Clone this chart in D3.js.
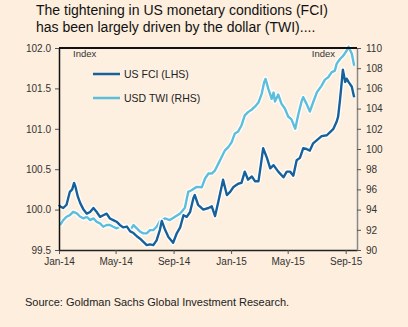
<!DOCTYPE html>
<html>
<head>
<meta charset="utf-8">
<script src="https://cdn.jsdelivr.net/npm/d3@7"></script>
<style>
    body { margin: 0; background: #fdeedd; }
    svg { display: block; font-family: "Liberation Sans", Arial, sans-serif; }
    .axis text { fill: #333; font-size: 10px; }
    .axis line { stroke: #555; }
</style>
</head>
<body>
<div class="chart"></div>
<script>
// US FCI (left axis)
var fciDates = ["2014-01-01","2014-01-03","2014-01-10","2014-01-17","2014-01-24","2014-01-29","2014-02-02","2014-02-05",
    "2014-02-10","2014-02-15","2014-02-22","2014-03-01","2014-03-08","2014-03-15","2014-03-22","2014-03-29","2014-04-05",
    "2014-04-12","2014-04-19","2014-04-26","2014-05-03","2014-05-10","2014-05-17","2014-05-25","2014-06-01","2014-06-08",
    "2014-06-15","2014-06-22","2014-06-29","2014-07-06","2014-07-13","2014-07-20","2014-07-27","2014-08-03","2014-08-07",
    "2014-08-14","2014-08-21","2014-08-31","2014-09-08","2014-09-15","2014-09-22","2014-09-29","2014-10-06","2014-10-13",
    "2014-10-16","2014-10-23","2014-11-03","2014-11-14","2014-11-21","2014-11-28","2014-12-05","2014-12-15","2014-12-23",
    "2014-12-30","2015-01-06","2015-01-16","2015-01-23","2015-01-30","2015-02-06","2015-02-14","2015-02-21","2015-02-28",
    "2015-03-05","2015-03-10","2015-03-18","2015-03-25","2015-04-01","2015-04-11","2015-04-22","2015-04-29","2015-05-06",
    "2015-05-13","2015-05-20","2015-05-27","2015-06-03","2015-06-10","2015-06-17","2015-06-24","2015-07-02","2015-07-12",
    "2015-07-23","2015-07-30","2015-08-06","2015-08-13","2015-08-16","2015-08-20","2015-08-22","2015-08-26","2015-08-31",
    "2015-09-03","2015-09-07","2015-09-14","2015-09-17","2015-09-19"];
var fciValues = [100.06,100.04,100.02,100.06,100.22,100.25,100.33,100.28,
    100.16,100.08,100.00,99.95,99.97,100.02,99.97,99.91,99.93,
    99.95,99.89,99.87,99.85,99.81,99.78,99.79,99.73,99.71,
    99.67,99.64,99.60,99.56,99.57,99.56,99.62,99.75,99.86,
    99.75,99.66,99.59,99.71,99.78,99.93,99.91,99.97,100.14,
    100.18,100.06,100.00,100.02,100.04,99.92,100.10,100.37,100.18,
    100.22,100.28,100.32,100.33,100.47,100.37,100.41,100.35,100.35,
    100.55,100.76,100.64,100.51,100.55,100.47,100.40,100.47,100.47,
    100.42,100.61,100.64,100.76,100.75,100.73,100.82,100.86,100.91,
    100.92,100.96,101.00,101.09,101.15,101.36,101.48,101.73,101.58,
    101.62,101.58,101.52,101.44,101.39];

// USD TWI (right axis)
var twiDates = ["2014-01-03","2014-01-10","2014-01-17","2014-01-24","2014-01-31","2014-02-08","2014-02-15","2014-02-22",
    "2014-03-01","2014-03-08","2014-03-15","2014-03-22","2014-03-29","2014-04-05","2014-04-12","2014-04-19","2014-04-26",
    "2014-05-03","2014-05-10","2014-05-17","2014-05-25","2014-06-01","2014-06-08","2014-06-15","2014-06-22","2014-06-29",
    "2014-07-06","2014-07-13","2014-07-20","2014-07-27","2014-08-03","2014-08-14","2014-08-24","2014-09-04","2014-09-15",
    "2014-09-25","2014-10-02","2014-10-09","2014-10-20","2014-10-31","2014-11-07","2014-11-14","2014-11-21","2014-11-28",
    "2014-12-05","2014-12-12","2014-12-19","2014-12-26","2015-01-02","2015-01-09","2015-01-16","2015-01-23","2015-01-30",
    "2015-02-06","2015-02-14","2015-02-21","2015-02-28","2015-03-07","2015-03-12","2015-03-15","2015-03-21","2015-03-28",
    "2015-04-01","2015-04-04","2015-04-11","2015-04-18","2015-04-25","2015-05-02","2015-05-09","2015-05-17","2015-05-24",
    "2015-05-31","2015-06-03","2015-06-10","2015-06-17","2015-06-24","2015-07-02","2015-07-12","2015-07-19","2015-07-26",
    "2015-08-02","2015-08-09","2015-08-13","2015-08-20","2015-08-27","2015-09-03","2015-09-07","2015-09-14","2015-09-19"];
var twiValues = [92.47,92.96,93.29,93.45,93.78,93.62,93.29,93.13,
    93.29,92.96,93.13,92.79,92.63,92.30,92.47,92.47,92.30,
    92.14,92.30,92.30,92.30,91.97,92.47,92.14,91.81,91.65,
    91.65,91.97,91.97,92.30,92.86,93.13,92.96,93.29,93.62,
    94.19,95.75,95.92,96.25,96.22,97.10,97.57,97.57,97.89,
    98.55,99.21,99.87,100.19,100.66,101.54,101.74,102.33,103.32,
    103.65,103.91,104.21,104.60,105.49,106.58,106.94,105.95,104.97,
    105.59,104.70,105.39,104.47,104.01,103.22,102.93,102.01,103.52,
    104.80,105.13,104.47,103.71,104.63,105.62,106.28,106.87,107.10,
    107.59,107.76,108.45,108.91,109.24,109.73,110.13,109.44,108.25];

var xTicks = ["2014-01-01","2014-05-01","2014-09-01","2015-01-01","2015-05-01","2015-09-01"];
var leftTicks = [99.5, 100.0, 100.5, 101.0, 101.5, 102.0];
var rightTicks = [90, 92, 94, 96, 98, 100, 102, 104, 106, 108, 110];
var seriesNames = ["US FCI (LHS)", "USD TWI (RHS)"];

(function () {
    var W = 408, H = 327;
    var margin = { top : 48, right : 51, bottom : 77, left : 59 };
    var width = W - margin.left - margin.right;
    var height = H - margin.top - margin.bottom;
    var colors = ["#17609a", "#5dbedb"];

    var parse = d3.timeParse("%Y-%m-%d");

    var fci = fciDates.map(function (d, i) { return { date: parse(d), value: fciValues[i] }; });
    var twi = twiDates.map(function (d, i) { return { date: parse(d), value: twiValues[i] }; });

    var x = d3.scaleTime()
        .domain([parse("2014-01-01"), parse("2015-09-25")])
        .range([0, width]);

    var yL = d3.scaleLinear().domain([99.5, 102]).range([height, 0]);
    var yR = d3.scaleLinear().domain([90, 110]).range([height, 0]);

    var svg = d3.select(".chart").append("svg")
        .attr("width", W)
        .attr("height", H);

    svg.append("rect")
        .attr("width", W).attr("height", H)
        .attr("fill", "#fdeedd");

    // title
    var title = svg.append("text")
        .attr("x", 36)
        .attr("fill", "#111")
        .style("font-size", "14px");
    title.append("tspan").attr("x", 36).attr("y", 15).text("The tightening in US monetary conditions (FCI)");
    title.append("tspan").attr("x", 36).attr("y", 32).text("has been largely driven by the dollar (TWI)....");

    var g = svg.append("g")
        .attr("transform", "translate(" + margin.left + "," + margin.top + ")");

    g.append("rect")
        .attr("width", width).attr("height", height)
        .attr("fill", "#fdf0e1");

    var lineL = d3.line()
        .x(function (d) { return x(d.date); })
        .y(function (d) { return yL(d.value); });

    var lineR = d3.line()
        .x(function (d) { return x(d.date); })
        .y(function (d) { return yR(d.value); });

    // white halo under each series
    [[twi, lineR, 1], [fci, lineL, 0]].forEach(function (s) {
        g.append("path")
            .datum(s[0])
            .attr("fill", "none")
            .attr("stroke", "#fff")
            .attr("stroke-width", 5)
            .attr("stroke-linejoin", "round")
            .attr("d", s[1]);
        g.append("path")
            .datum(s[0])
            .attr("fill", "none")
            .attr("stroke", colors[s[2]])
            .attr("stroke-width", 2.4)
            .attr("stroke-linejoin", "round")
            .attr("d", s[1]);
    });

    // axes
    var xAxis = g.append("g")
        .attr("class", "axis")
        .attr("transform", "translate(0," + height + ")")
        .call(d3.axisBottom(x)
            .tickValues(xTicks.map(parse))
            .tickFormat(d3.timeFormat("%b-%y"))
            .tickSize(4)
            .tickSizeOuter(0)
            .tickPadding(4));

    var leftAxis = g.append("g")
        .attr("class", "axis")
        .call(d3.axisLeft(yL)
            .tickValues(leftTicks)
            .tickFormat(d3.format(".1f"))
            .tickSize(4)
            .tickSizeOuter(0)
            .tickPadding(4));

    var rightAxis = g.append("g")
        .attr("class", "axis")
        .attr("transform", "translate(" + width + ",0)")
        .call(d3.axisRight(yR)
            .tickValues(rightTicks)
            .tickSize(4)
            .tickSizeOuter(0)
            .tickPadding(5));

    xAxis.select(".domain").attr("stroke", "#222").attr("stroke-width", 1.5);
    leftAxis.select(".domain").attr("stroke", "#111").attr("stroke-width", 1.5);
    rightAxis.select(".domain").attr("stroke", "#888").attr("stroke-width", 1.5);
    rightAxis.selectAll(".tick line").attr("stroke", "#888");

    g.append("line")
        .attr("x1", 0).attr("x2", width)
        .attr("y1", 0).attr("y2", 0)
        .attr("stroke", "#111")
        .attr("stroke-width", 2);

    g.append("text")
        .attr("x", 14).attr("y", 9)
        .attr("fill", "#333")
        .style("font-size", "9.5px")
        .text("Index");

    g.append("text")
        .attr("x", width - 22).attr("y", 9)
        .attr("fill", "#333")
        .style("text-anchor", "end")
        .style("font-size", "9.5px")
        .text("Index");

    // legend
    var legend = g.selectAll(".legend")
        .data(seriesNames)
        .enter().append("g")
        .attr("class", "legend")
        .attr("transform", function (d, i) { return "translate(34," + (26 + i * 24) + ")"; });

    legend.append("line")
        .attr("x1", 0).attr("x2", 27)
        .attr("stroke", function (d, i) { return colors[i]; })
        .attr("stroke-width", 2.5);

    legend.append("text")
        .attr("x", 31)
        .attr("dy", "0.35em")
        .attr("fill", "#222")
        .style("font-size", "10.5px")
        .text(function (d) { return d; });

    svg.append("text")
        .attr("x", 25).attr("y", 306)
        .attr("fill", "#222")
        .style("font-size", "11px")
        .text("Source: Goldman Sachs Global Investment Research.");

})();
</script>
</body>
</html>
